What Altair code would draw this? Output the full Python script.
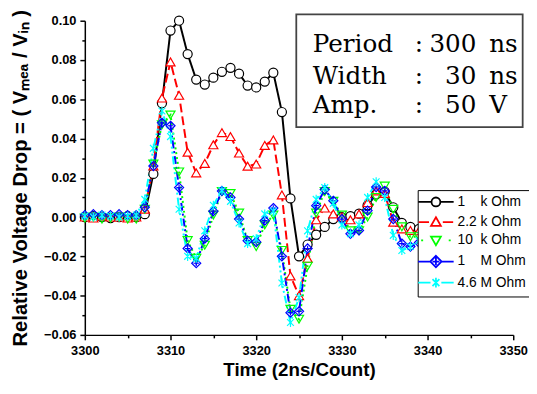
import altair as alt
import pandas as pd

# ---------------- data ----------------
counts = list(range(3300, 3340))
series_names = [
    "1\u00a0\u00a0\u00a0\u00a0k Ohm",
    "2.2 k Ohm",
    "10\u00a0\u00a0k Ohm",
    "1\u00a0\u00a0\u00a0\u00a0M Ohm",
    "4.6 M Ohm",
]

black = [0.000, 0.0005, 0.000, -0.0005, 0.000, 0.0005, 0.000,
         0.0015, 0.022, 0.058, 0.095, 0.100, 0.083, 0.070, 0.0675, 0.071,
         0.074, 0.076, 0.073, 0.067, 0.066, 0.069, 0.0735, 0.0535, 0.0095,
         -0.020, -0.014, -0.009, -0.005, -0.001, 0.000, 0.0005, 0.0017,
         0.006, 0.0115, 0.013, 0.005, -0.003, -0.005, -0.006]
red = [0.000, -0.0005, 0.0005, 0.000, 0.000, -0.0005, 0.000,
       0.004, 0.026, 0.0606, 0.079, 0.062, 0.033, 0.0225, 0.0273, 0.0368,
       0.043, 0.041, 0.0326, 0.0259, 0.027, 0.0365, 0.0393, 0.0113, -0.030,
       -0.040, -0.021, -0.0014, 0.0046, 0.0016, 0.000, -0.0014, 0.0016,
       0.0074, 0.0133, 0.012, -0.0026, -0.006, -0.0068, -0.007]
green = [-0.0005, 0.000, -0.001, -0.0005, 0.000, -0.001, -0.001,
         0.004, 0.027, 0.047, 0.052, 0.023, -0.012, -0.021, -0.0143, 0.001,
         0.013, 0.012, 0.002, -0.012, -0.015, -0.004, 0.001, -0.017, -0.047,
         -0.052, -0.025, 0.002, 0.013, 0.008, 0.001, -0.007, -0.007,
         0.000, 0.010, 0.0158, 0.004, -0.005, -0.010, -0.010]
blue = [0.001, 0.0015, 0.001, 0.001, 0.0015, 0.001, 0.001,
        0.005, 0.026, 0.048, 0.0465, 0.015, -0.016, -0.0235, -0.011, 0.003,
        0.0133, 0.010, -0.001, -0.012, -0.0127, -0.0018, 0.0046, -0.020, -0.0487,
        -0.048, -0.016, 0.0058, 0.014, 0.0083, -0.001, -0.0085, -0.0068,
        0.0033, 0.0153, 0.0133, -0.001, -0.0135, -0.015, -0.013]
cyan = [0.0005, 0.000, 0.001, 0.0005, 0.000, 0.0005, 0.001,
        0.009, 0.035, 0.054, 0.041, 0.004, -0.020, -0.021, -0.007, 0.006,
        0.0135, 0.008, -0.003, -0.0135, -0.011, 0.0016, 0.003, -0.0336, -0.0537,
        -0.041, -0.007, 0.009, 0.015, 0.007, -0.004, -0.0085, -0.004,
        0.010, 0.018, 0.010, -0.0093, -0.017, -0.015, -0.012]

info_labels = ["Period", "Width", "Amp."]
info_numbers = ["300", "30", "50"]
info_units = ["ns", "ns", "V"]

x_major = list(range(3300, 3351, 10))
x_minor = list(range(3305, 3350, 10))
y_major = [round(-0.06 + 0.02 * i, 2) for i in range(9)]
y_minor = [round(-0.05 + 0.02 * i, 2) for i in range(8)]

# ---------------- styles ----------------
colors = ["#000000", "#FF0000", "#00FF00", "#0000FF", "#00FFFF"]
dashes = [[1, 0], [9, 4], [2, 3], [8, 3, 2, 3], [8, 3, 2, 3, 2, 3]]
fills = ["white", "white", "transparent", "transparent", "transparent"]
marker_shapes = [
    "circle",
    "triangle-up",
    "triangle-down",
    "M0,-1L1,0L0,1L-1,0Z M0,-0.6L0,0.6 M-0.6,0L0.6,0",
    "M-0.75,-0.75L0.75,0.75 M-0.75,0.75L0.75,-0.75 M0,-1L0,1",
]
marker_sizes = [85, 85, 85, 130, 100]
legend_shapes = [
    "M-3.6,0L-0.9,0M0.9,0L3.6,0M0.9,0A0.9,0.9 0 1,1 -0.9,0A0.9,0.9 0 1,1 0.9,0Z",
    "M-3.5,0L-1.4,0M1.4,0L3.5,0M0,-1L1,0.75L-1,0.75Z",
    "M-3.0,0L-2.6,0M2.6,0L3.0,0M-1,-0.75L1,-0.75L0,1Z",
    "M-3.6,0L-1.15,0M1.15,0L3.6,0M0,-1.15L1.15,0L0,1.15L-1.15,0Z M0,-0.7L0,0.7 M-0.7,0L0.7,0",
    "M-3.6,0L-1.1,0M1.1,0L3.6,0M-0.7,-0.7L0.7,0.7 M-0.7,0.7L0.7,-0.7 M0,-1L0,1",
]

rows = []
for name, vals in zip(series_names, [black, red, green, blue, cyan]):
    for c, v in zip(counts, vals):
        rows.append({"count": c, "value": v, "series": name})
df = pd.DataFrame(rows)

FONT = "Liberation Sans"

x_scale = alt.Scale(domain=[3300, 3350], nice=False, zero=False)
y_scale = alt.Scale(domain=[-0.06, 0.10], nice=False, zero=False)

x_axis = alt.Axis(values=x_major, format="d", tickSize=5, labelOverlap=False,
                  labelFlush=False, labelPadding=5, titlePadding=3)
y_axis = alt.Axis(values=y_major, format=".2f", tickSize=5, labelOverlap=False,
                  labelFlush=False, labelPadding=4, titlePadding=13, titleFontSize=20.5)

X = alt.X("count:Q", scale=x_scale, axis=x_axis, title="Time (2ns/Count)")
Y = alt.Y("value:Q", scale=y_scale, axis=y_axis,
          title="Relative Voltage  Drop = ( V\u2098\u2091\u2090\u00a0/ V\u1d62\u2099\u00a0)")
Xn = alt.X("count:Q", scale=x_scale, axis=None)
Yn = alt.Y("value:Q", scale=y_scale, axis=None)

color_scale = alt.Scale(domain=series_names, range=colors)

lines = alt.Chart(df).mark_line(strokeWidth=2).encode(
    x=X, y=Y,
    color=alt.Color("series:N", scale=color_scale, legend=None),
    strokeDash=alt.StrokeDash("series:N", scale=alt.Scale(domain=series_names, range=dashes), legend=None),
)

points = alt.Chart(df).mark_point(filled=False, strokeWidth=1.2, opacity=1).encode(
    x=Xn, y=Yn,
    color=alt.Color("series:N", scale=color_scale, legend=None),
    fill=alt.Fill("series:N", scale=alt.Scale(domain=series_names, range=fills), legend=None),
    shape=alt.Shape("series:N", scale=alt.Scale(domain=series_names, range=marker_shapes), legend=None),
    size=alt.Size("series:N", scale=alt.Scale(domain=series_names, range=marker_sizes), legend=None),
)

# minor tick carrier (no data drawn, only its axes)
minor = alt.Chart(df).transform_filter("false").mark_point().encode(
    x=alt.X("count:Q", scale=x_scale,
            axis=alt.Axis(values=x_minor, labels=False, domain=False, tickSize=3,
                          title=None, orient="bottom")),
    y=alt.Y("value:Q", scale=y_scale,
            axis=alt.Axis(values=y_minor, labels=False, domain=False, tickSize=3,
                          title=None, orient="left")),
)

leg = alt.Legend(
    orient="none", legendX=338, legendY=172, title=None,
    padding=5, rowPadding=2.5, symbolSize=100, symbolStrokeWidth=1.8,
    symbolOffset=6.5, labelOffset=15, labelFont=FONT, labelFontSize=14,
    labelColor="black", strokeColor="black", fillColor="white",
    symbolFillColor="white", cornerRadius=0,
)
legend_layer = alt.Chart(df).transform_filter("false").mark_point(
    filled=False, strokeWidth=1.8, opacity=1
).encode(
    x=Xn, y=Yn,
    color=alt.Color("series:N", scale=alt.Scale(domain=series_names, range=colors), legend=leg),
    shape=alt.Shape("series:N", scale=alt.Scale(domain=series_names, range=legend_shapes), legend=leg),
)

# annotation box (in data units)
box_df = pd.DataFrame({"x1": [3324.68], "x2": [3351.1], "y1": [0.1032], "y2": [0.0458]})
info_df = pd.DataFrame({
    "label": info_labels, "num": info_numbers, "unit": info_units,
    "colon": [":", ":", ":"],
    "yy": [0.0840, 0.0679, 0.0529],
})
box = alt.Chart(box_df).mark_rect(fill="white", stroke="#444444", strokeWidth=1.8).encode(
    x=alt.X("x1:Q", scale=x_scale, axis=None), x2="x2:Q",
    y=alt.Y("y1:Q", scale=y_scale, axis=None), y2="y2:Q",
)
SERIF = "DejaVu Serif"
txt_kw = dict(font=SERIF, fontSize=25, color="black", baseline="alphabetic")
Yt = alt.Y("yy:Q", scale=y_scale, axis=None)
t_label = alt.Chart(info_df).transform_calculate(lx="3326.6").mark_text(align="left", **txt_kw).encode(
    x=alt.X("lx:Q", scale=x_scale, axis=None), y=Yt, text="label:N")
t_colon = alt.Chart(info_df).transform_calculate(cx="3339.0").mark_text(align="center", **txt_kw).encode(
    x=alt.X("cx:Q", scale=x_scale, axis=None), y=Yt, text="colon:N")
t_num = alt.Chart(info_df).transform_calculate(nx="3345.7").mark_text(align="right", **txt_kw).encode(
    x=alt.X("nx:Q", scale=x_scale, axis=None), y=Yt, text="num:N")
t_unit = alt.Chart(info_df).transform_calculate(ux="3347.2").mark_text(align="left", **txt_kw).encode(
    x=alt.X("ux:Q", scale=x_scale, axis=None), y=Yt, text="unit:N")

chart = alt.layer(
    lines, points, minor, box, t_label, t_colon, t_num, t_unit, legend_layer
).resolve_scale(shape="independent", color="independent").resolve_axis(
    x="independent", y="independent"
).properties(
    width=435, height=319,
    autosize=alt.AutoSizeParams(type="none"),
    padding={"left": 78, "top": 10, "right": 16, "bottom": 50},
).configure_view(stroke=None).configure_axis(
    grid=False, domainColor="black", tickColor="black", domainWidth=1.5, tickWidth=1.5,
    labelColor="black", titleColor="black",
    labelFont=FONT, labelFontWeight="bold", labelFontSize=13,
    titleFont=FONT, titleFontWeight="bold", titleFontSize=19,
)

chart.save("out.html", embed_options={"renderer": "svg", "actions": False})
